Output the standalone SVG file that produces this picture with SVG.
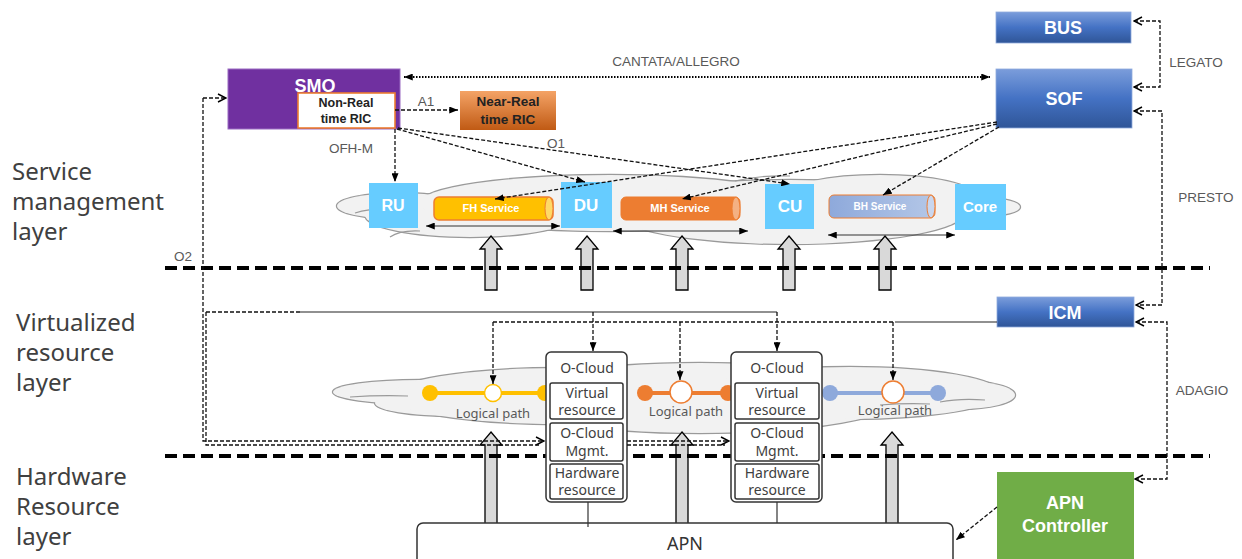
<svg xmlns="http://www.w3.org/2000/svg" width="1242" height="559" viewBox="0 0 1242 559">
<style>
.lay{font-family:"Noto Sans","Liberation Sans",sans-serif;font-size:24px;fill:#404040}
.lbl{font-family:"Liberation Sans",Arial,sans-serif;font-size:13.5px;fill:#595959}
.wb{font-family:"Liberation Sans",Arial,sans-serif;font-weight:bold;fill:#fff;text-anchor:middle}
.bk{font-family:"Liberation Sans",Arial,sans-serif;font-weight:bold;fill:#222;text-anchor:middle}
.oc{font-family:"Noto Sans","Liberation Sans",sans-serif;font-size:14px;fill:#404040;text-anchor:middle}
.lp{font-family:"Noto Sans","Liberation Sans",sans-serif;font-size:13px;fill:#595959;text-anchor:middle}
.dash{fill:none;stroke:#111;stroke-width:1.3;stroke-dasharray:4 2}
.layer{fill:none;stroke:#000;stroke-width:4;stroke-dasharray:12 6}
.blk{fill:#D9D9D9;stroke:#000;stroke-width:1.3}
.cs{fill:none;stroke:#9a9a9a;stroke-width:2.4}
.cf{fill:#F2F2F2;stroke:none}
.lb{fill:#66CCFF}
.ib{fill:#fff;stroke:#333;stroke-width:1.5}
</style>
<defs>
<linearGradient id="gb" x1="0" y1="0" x2="0" y2="1"><stop offset="0" stop-color="#7B9DDB"/><stop offset="0.5" stop-color="#4472C4"/><stop offset="1" stop-color="#2F5597"/></linearGradient>
<linearGradient id="go" x1="0" y1="0" x2="0" y2="1"><stop offset="0" stop-color="#F4A366"/><stop offset="1" stop-color="#C05A14"/></linearGradient>
<linearGradient id="gbh" x1="0" y1="0" x2="1" y2="0"><stop offset="0" stop-color="#8EA9DB"/><stop offset="1" stop-color="#B4C7E7"/></linearGradient>
<marker id="tri" viewBox="0 0 10 8" refX="10" refY="4" markerWidth="9" markerHeight="7" markerUnits="userSpaceOnUse" orient="auto-start-reverse"><path d="M0,0 L10,4 L0,8 z" fill="#000"/></marker>
<marker id="opn" viewBox="0 0 10 10" refX="9" refY="5" markerWidth="10" markerHeight="10" markerUnits="userSpaceOnUse" orient="auto-start-reverse"><path d="M1,1 L9,5 L1,9" fill="none" stroke="#000" stroke-width="1.4"/></marker>
</defs>
<rect width="1242" height="559" fill="#fff"/>

<g id="layer-labels">
<text class="lay" x="12" y="180">Service</text>
<text class="lay" x="12" y="210">management</text>
<text class="lay" x="12" y="240">layer</text>
<text class="lay" x="16" y="331">Virtualized</text>
<text class="lay" x="16" y="361">resource</text>
<text class="lay" x="16" y="391">layer</text>
<text class="lay" x="16" y="485">Hardware</text>
<text class="lay" x="16" y="515">Resource</text>
<text class="lay" x="16" y="545">layer</text>
</g>

<g id="cloud-service">
<g class="cs">
<ellipse cx="400" cy="206" rx="63" ry="13"/>
<ellipse cx="470" cy="215" rx="105" ry="22"/>
<ellipse cx="610" cy="203" rx="190" ry="28"/>
<ellipse cx="790" cy="212" rx="175" ry="32"/>
<ellipse cx="880" cy="196" rx="95" ry="21"/>
<ellipse cx="985" cy="207" rx="35" ry="9"/>
</g>
<g class="cf">
<ellipse cx="400" cy="206" rx="63" ry="13"/>
<ellipse cx="470" cy="215" rx="105" ry="22"/>
<ellipse cx="610" cy="203" rx="190" ry="28"/>
<ellipse cx="790" cy="212" rx="175" ry="32"/>
<ellipse cx="880" cy="196" rx="95" ry="21"/>
<ellipse cx="985" cy="207" rx="35" ry="9"/>
</g>
<path d="M355,213 Q370,208 395,209 M390,237 Q400,230 420,231 M735,181 Q760,175 790,176" fill="none" stroke="#9a9a9a" stroke-width="1.2"/>
</g>

<g id="cloud-virtual">
<g class="cs">
<ellipse cx="420" cy="392" rx="87" ry="12"/>
<ellipse cx="455" cy="403" rx="80" ry="13"/>
<ellipse cx="560" cy="396" rx="170" ry="28"/>
<ellipse cx="700" cy="398" rx="200" ry="35"/>
<ellipse cx="850" cy="393" rx="150" ry="26"/>
<ellipse cx="960" cy="395" rx="55" ry="14"/>
</g>
<g class="cf">
<ellipse cx="420" cy="392" rx="87" ry="12"/>
<ellipse cx="455" cy="403" rx="80" ry="13"/>
<ellipse cx="560" cy="396" rx="170" ry="28"/>
<ellipse cx="700" cy="398" rx="200" ry="35"/>
<ellipse cx="850" cy="393" rx="150" ry="26"/>
<ellipse cx="960" cy="395" rx="55" ry="14"/>
</g>
<path d="M350,397 Q380,395 408,396 M940,402 Q960,398 985,400 M880,405 Q905,403 930,404" fill="none" stroke="#9a9a9a" stroke-width="1.2"/>
</g>

<g id="block-arrows">
<path class="blk" d="M491,236 L502,249 L497,249 L497,290 L485,290 L485,249 L480,249 Z"/>
<path class="blk" d="M587,236 L598,249 L593,249 L593,290 L581,290 L581,249 L576,249 Z"/>
<path class="blk" d="M682,236 L693,249 L688,249 L688,290 L676,290 L676,249 L671,249 Z"/>
<path class="blk" d="M789,236 L800,249 L795,249 L795,290 L783,290 L783,249 L778,249 Z"/>
<path class="blk" d="M885,236 L896,249 L891,249 L891,290 L879,290 L879,249 L874,249 Z"/>
<path class="blk" d="M491,432 L502,445 L497,445 L497,524 L485,524 L485,445 L480,445 Z"/>
<path class="blk" d="M682,432 L693,445 L688,445 L688,524 L676,524 L676,445 L671,445 Z"/>
<path class="blk" d="M892,432 L903,445 L898,445 L898,524 L886,524 L886,445 L881,445 Z"/>
</g>

<g id="layer-lines">
<line class="layer" x1="165" y1="268" x2="1210" y2="268"/>
<line class="layer" x1="165" y1="456" x2="1210" y2="456"/>
</g>

<g id="smo">
<rect x="228" y="69" width="172" height="60" fill="#7030A0" stroke="#9A6BC2" stroke-width="1"/>
<text class="wb" x="315" y="92" font-size="18">SMO</text>
</g>
<g id="non-rt-ric">
<rect x="298" y="93" width="97" height="35" fill="#fff" stroke="#ED7D31" stroke-width="1.6"/>
<text class="bk" x="346" y="107" font-size="12.5">Non-Real</text>
<text class="bk" x="346" y="123" font-size="12.5">time RIC</text>
</g>
<g id="near-rt-ric">
<rect x="460" y="91" width="96" height="39" fill="url(#go)"/>
<text class="bk" x="508" y="106" font-size="13.5">Near-Real</text>
<text class="bk" x="508" y="124" font-size="13.5">time RIC</text>
</g>
<g id="bus">
<rect x="996" y="12" width="135" height="31" fill="url(#gb)" stroke="#8FAADC" stroke-width="0.8"/>
<text class="wb" x="1063" y="34" font-size="18">BUS</text>
</g>
<g id="sof">
<rect x="996" y="69" width="136" height="59" fill="url(#gb)" stroke="#8FAADC" stroke-width="0.8"/>
<text class="wb" x="1064" y="105" font-size="18">SOF</text>
</g>
<g id="icm">
<rect x="997" y="297" width="137" height="30" fill="url(#gb)" stroke="#8FAADC" stroke-width="0.8"/>
<text class="wb" x="1065" y="319" font-size="18">ICM</text>
</g>
<g id="apn-controller">
<rect x="997" y="472" width="137" height="95" fill="#70AD47"/>
<text class="wb" x="1065" y="509" font-size="18">APN</text>
<text class="wb" x="1065" y="532" font-size="18">Controller</text>
</g>

<g id="ru"><rect class="lb" x="369" y="183" width="49" height="45"/><text class="wb" x="393" y="211" font-size="16">RU</text></g>
<g id="du"><rect class="lb" x="561" y="182" width="51" height="46"/><text class="wb" x="586" y="211" font-size="17">DU</text></g>
<g id="cu"><rect class="lb" x="765" y="184" width="49" height="45"/><text class="wb" x="790" y="212" font-size="17">CU</text></g>
<g id="core"><rect class="lb" x="955" y="184" width="51" height="46"/><text class="wb" x="980" y="212" font-size="15">Core</text></g>

<g id="fh-service">
<rect x="434" y="197" width="119" height="23" rx="5" fill="#FFC000" stroke="#ED7D31" stroke-width="1.5"/>
<ellipse cx="549" cy="208.5" rx="4" ry="11.5" fill="#FFD966" stroke="#ED7D31" stroke-width="1"/>
<text class="wb" x="491" y="212" font-size="11">FH Service</text>
</g>
<g id="mh-service">
<rect x="621" y="197" width="119" height="23" rx="5" fill="#ED7D31" stroke="#ED7D31" stroke-width="1"/>
<ellipse cx="736" cy="208.5" rx="4" ry="11.5" fill="#F4B183" stroke="#ED7D31" stroke-width="1"/>
<text class="wb" x="680" y="212" font-size="11">MH Service</text>
</g>
<g id="bh-service">
<rect x="829" y="195" width="106" height="23" rx="5" fill="url(#gbh)" stroke="#ED7D31" stroke-width="1"/>
<ellipse cx="931" cy="206.5" rx="4" ry="11.5" fill="#C9D6EE" stroke="#ED7D31" stroke-width="1"/>
<text class="wb" x="880" y="210" font-size="10">BH Service</text>
</g>

<g id="logical-paths">
<line x1="430" y1="393" x2="545" y2="393" stroke="#FFC000" stroke-width="4"/>
<circle cx="430" cy="393" r="8" fill="#FFC000"/><circle cx="545" cy="393" r="8" fill="#FFC000"/>
<circle cx="493" cy="393" r="8.5" fill="#fff" stroke="#FFC000" stroke-width="1.5"/>
<text class="lp" x="493" y="418">Logical path</text>
<line x1="645" y1="393" x2="728" y2="393" stroke="#ED7D31" stroke-width="4"/>
<circle cx="645" cy="393" r="8" fill="#ED7D31"/><circle cx="728" cy="393" r="8" fill="#ED7D31"/>
<circle cx="681" cy="392" r="11" fill="#fff" stroke="#ED7D31" stroke-width="1.5"/>
<text class="lp" x="686" y="416">Logical path</text>
<line x1="830" y1="393" x2="938" y2="393" stroke="#8EA9DB" stroke-width="4"/>
<circle cx="830" cy="393" r="8" fill="#8EA9DB"/><circle cx="938" cy="393" r="8" fill="#8EA9DB"/>
<circle cx="893" cy="392" r="11" fill="#fff" stroke="#ED7D31" stroke-width="1.5"/>
<text class="lp" x="895" y="415">Logical path</text>
</g>

<g id="o-cloud-1">
<rect x="546" y="352" width="81" height="150" rx="5" fill="#fff" stroke="#333" stroke-width="1.5"/>
<text class="oc" x="587" y="373">O-Cloud</text>
<rect class="ib" x="550" y="383" width="73" height="36" rx="2"/>
<text class="oc" x="587" y="398">Virtual</text><text class="oc" x="587" y="415">resource</text>
<rect class="ib" x="550" y="423" width="73" height="38" rx="2"/>
<text class="oc" x="587" y="438">O-Cloud</text><text class="oc" x="587" y="456">Mgmt.</text>
<rect class="ib" x="550" y="464" width="73" height="35" rx="2"/>
<text class="oc" x="587" y="478">Hardware</text><text class="oc" x="587" y="495">resource</text>
</g>
<g id="o-cloud-2">
<rect x="731" y="352" width="91" height="150" rx="5" fill="#fff" stroke="#333" stroke-width="1.5"/>
<text class="oc" x="777" y="373">O-Cloud</text>
<rect class="ib" x="735" y="383" width="84" height="36" rx="2"/>
<text class="oc" x="777" y="398">Virtual</text><text class="oc" x="777" y="415">resource</text>
<rect class="ib" x="735" y="423" width="84" height="38" rx="2"/>
<text class="oc" x="777" y="438">O-Cloud</text><text class="oc" x="777" y="456">Mgmt.</text>
<rect class="ib" x="735" y="464" width="84" height="35" rx="2"/>
<text class="oc" x="777" y="478">Hardware</text><text class="oc" x="777" y="495">resource</text>
</g>

<g id="apn">
<rect x="417" y="523" width="536" height="50" rx="6" fill="#fff" stroke="#333" stroke-width="1.5"/>
<text x="685" y="550" text-anchor="middle" font-family="Noto Sans,Liberation Sans,sans-serif" font-size="18" fill="#333">APN</text>
</g>

<g id="connectors">
<!-- layer-internal double arrows -->
<path d="M426,226 H560" fill="none" stroke="#333" stroke-width="1" marker-start="url(#tri)" marker-end="url(#tri)"/>
<path d="M613,231 H748" fill="none" stroke="#333" stroke-width="1" marker-start="url(#tri)" marker-end="url(#tri)"/>
<path d="M828,235 H955" fill="none" stroke="#333" stroke-width="1" marker-start="url(#tri)" marker-end="url(#tri)"/>
<!-- CANTATA/ALLEGRO -->
<path d="M404,77 H990" fill="none" stroke="#000" stroke-width="2" stroke-dasharray="1.5 1.5" marker-start="url(#tri)" marker-end="url(#tri)"/>
<!-- A1 -->
<path class="dash" d="M395,110 H458" marker-end="url(#tri)"/>
<!-- OFH-M / O1 -->
<path class="dash" d="M395,129 V182" marker-end="url(#tri)"/>
<path class="dash" d="M397,129 L585,182" marker-end="url(#tri)"/>
<path class="dash" d="M398,128 L790,184" marker-end="url(#tri)"/>
<!-- SOF to services -->
<path class="dash" d="M997,122 L495,199" marker-end="url(#tri)"/>
<path class="dash" d="M997,124 L682,199" marker-end="url(#tri)"/>
<path class="dash" d="M999,127 L883,195" marker-end="url(#tri)"/>
<!-- LEGATO, PRESTO, ADAGIO -->
<path class="dash" d="M1134,21 H1160 V87 H1134" marker-start="url(#opn)" marker-end="url(#opn)"/>
<path class="dash" d="M1134,111 H1162 V305 H1136" marker-start="url(#opn)" marker-end="url(#opn)"/>
<path class="dash" d="M1136,322 H1167 V479 H1135" marker-start="url(#opn)" marker-end="url(#opn)"/>
<!-- APN controller to APN -->
<path class="dash" d="M997,507 L956,540" marker-end="url(#tri)"/>
<!-- O2 -->
<path class="dash" d="M203,98 H226" marker-end="url(#opn)"/>
<path class="dash" d="M203,98 V441 H544" marker-end="url(#opn)"/>
<path class="dash" d="M206,312 V445 H540"/>
<path class="dash" d="M627,441 H729" marker-end="url(#opn)"/>
<path class="dash" d="M627,445 H725"/>
<!-- ICM distribution -->
<path class="dash" d="M206,312 H300"/>
<path d="M300,312 H777" fill="none" stroke="#222" stroke-width="1.2"/>
<path class="dash" d="M593,312 V351" marker-end="url(#tri)"/>
<path class="dash" d="M777,312 V351" marker-end="url(#tri)"/>
<path class="dash" d="M493,322 H895"/>
<path d="M895,322 H997" fill="none" stroke="#222" stroke-width="1.2"/>
<path class="dash" d="M493,322 V384" marker-end="url(#tri)"/>
<path class="dash" d="M680,322 V380" marker-end="url(#tri)"/>
<path class="dash" d="M893,322 V380" marker-end="url(#tri)"/>
<!-- O-Cloud to APN -->
<line x1="588" y1="502" x2="588" y2="527" stroke="#333" stroke-width="1.2"/>
<line x1="777" y1="502" x2="777" y2="523" stroke="#333" stroke-width="1.2"/>
</g>

<g id="connector-labels">
<text class="lbl" x="676" y="66" text-anchor="middle">CANTATA/ALLEGRO</text>
<text class="lbl" x="426" y="106" text-anchor="middle">A1</text>
<text class="lbl" x="351" y="153" text-anchor="middle">OFH-M</text>
<text class="lbl" x="556" y="148" text-anchor="middle">O1</text>
<text class="lbl" x="183" y="261" text-anchor="middle" font-size="12">O2</text>
<text class="lbl" x="1196" y="67" text-anchor="middle">LEGATO</text>
<text class="lbl" x="1206" y="202" text-anchor="middle">PRESTO</text>
<text class="lbl" x="1202" y="395" text-anchor="middle">ADAGIO</text>
</g>
</svg>
